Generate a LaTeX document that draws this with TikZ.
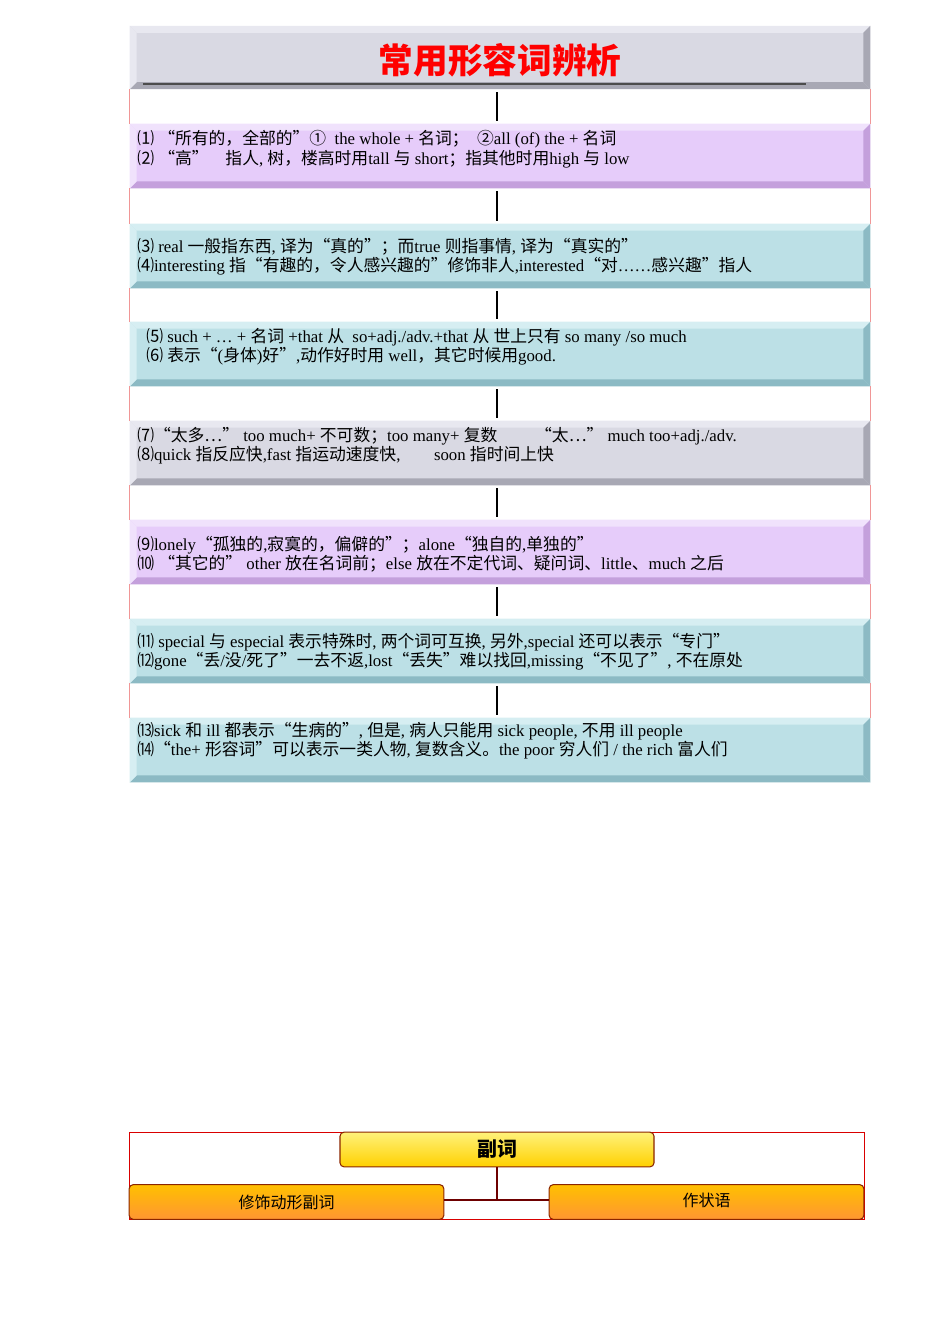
\documentclass[tikz,border=0pt]{standalone}
\usepackage{fontspec}
\setmainfont{Liberation Serif}
\newfontfamily\cjk{Noto Sans CJK SC}
\usetikzlibrary{calc}

% CJK characters switch to the CJK font
\XeTeXinterchartokenstate=1
\newXeTeXintercharclass\cjkclass
\newcount\cjkcnt
\def\cjkrange#1#2{\cjkcnt=#1 \loop\XeTeXcharclass\cjkcnt=\cjkclass \advance\cjkcnt 1 \ifnum\cjkcnt<#2 \repeat}
\cjkrange{"4E00}{"A000}
\cjkrange{"3000}{"3040}
\cjkrange{"FF00}{"FFF0}
\cjkrange{"2460}{"2500}
\cjkrange{"22EF}{"22F0}
\cjkrange{"201C}{"201E}
\XeTeXinterchartoks 0 \cjkclass = {\begingroup\cjk}
\XeTeXinterchartoks 4095 \cjkclass = {\begingroup\cjk}
\XeTeXinterchartoks \cjkclass 0 = {\endgroup}
\XeTeXinterchartoks \cjkclass 4095 = {\endgroup}

\definecolor{lilac}{RGB}{230,204,250}
\definecolor{lilacdark}{RGB}{196,160,220}
\definecolor{lilaclight}{RGB}{240,226,252}
\definecolor{teal}{RGB}{188,224,230}
\definecolor{tealdark}{RGB}{140,186,196}
\definecolor{teallight}{RGB}{214,238,242}
\definecolor{slate}{RGB}{217,217,227}
\definecolor{slatedark}{RGB}{168,168,180}
\definecolor{slatelight}{RGB}{232,232,240}
\definecolor{gapred}{RGB}{240,150,150}
\definecolor{linkred}{RGB}{110,0,0}

\tikzset{
  panel/.style={rectangle, inner sep=0pt, minimum width=555pt, minimum height=48pt},
  note/.style={anchor=north west, inner sep=0pt, align=left, font=\fontsize{12.6}{14.6}\selectfont},
  spine/.style={black, line width=0.9},
  gap/.style={gapred, line width=0.6},
  head/.style={rounded corners=3, draw={rgb,255:red,139;green,37;blue,0}, line width=0.8,
    inner sep=0pt, minimum height=26pt},
}

% bevelled panel edges
\newcommand{\bevel}[3]{%
  \fill[#2] (#1.south west) -- (#1.south east) -- ($(#1.south east)+(-7,-7)$) -- ($(#1.south west)+(7,-7)$) -- cycle;
  \fill[#3] (#1.north west) -- (#1.north east) -- ($(#1.north east)+(-7,7)$) -- ($(#1.north west)+(7,7)$) -- cycle;
  \fill[#3] (#1.north west) -- (#1.south west) -- ($(#1.south west)+(7,-7)$) -- ($(#1.north west)+(7,7)$) -- cycle;
  \fill[#2] (#1.north east) -- (#1.south east) -- ($(#1.south east)+(-7,-7)$) -- ($(#1.north east)+(-7,7)$) -- cycle;
}

\begin{document}
\begin{tikzpicture}[x=0.75pt,y=0.75pt,yscale=-1,xscale=1]
\useasboundingbox (0,0) rectangle (950,1344);

% panels
\node (title) [panel, fill=slate, minimum height=47pt] at (500,57.5) {};
\node (p1) [panel, fill=lilac] at (500,156) {};
\node (p2) [panel, fill=teal] at (500,256) {};
\node (p3) [panel, fill=teal] at (500,354) {};
\node (p4) [panel, fill=slate] at (500,453) {};
\node (p5) [panel, fill=lilac] at (500,552) {};
\node (p6) [panel, fill=teal] at (500,651) {};
\node (p7) [panel, fill=teal] at (500,750) {};
\bevel{title}{slatedark}{slatelight}
\bevel{p1}{lilacdark}{lilaclight}
\bevel{p2}{tealdark}{teallight}
\bevel{p3}{tealdark}{teallight}
\bevel{p4}{slatedark}{slatelight}
\bevel{p5}{lilacdark}{lilaclight}
\bevel{p6}{tealdark}{teallight}
\bevel{p7}{tealdark}{teallight}
\draw[black!70, line width=0.8] (143,84) -- (806,84);

\node (ttl) at (500,60) {\cjk\bfseries\color{red}\fontsize{26}{28}\selectfont 常用形容词辨析};

% gaps and spine
\foreach \a/\b in {title/p1,p1/p2,p2/p3,p3/p4,p4/p5,p5/p6,p6/p7}{
  \draw[gap] (\a.south west) -- (\b.north west);
  \draw[gap] (\a.south east) -- (\b.north east);
  \draw[spine] ($(\a.south)+(-3,3)$) -- ($(\b.north)+(-3,-3)$);
}

% notes
\node (t1) [note] at (137,130) {⑴\ “所有的，全部的”①\ \ the whole +\ 名词；\ \ ②all (of) the +\ 名词\\⑵\ “高”\quad 指人, 树，楼高时用tall 与 short；指其他时用high 与 low};
\node (t2) [note] at (137,238) {⑶ real 一般指东西, 译为“真的”；而true 则指事情, 译为“真实的”\\⑷interesting 指“有趣的，令人感兴趣的”修饰非人,interested“对……感兴趣”指人};
\node (t3) [note] at (146,328) {⑸ such + … +\ 名词 +that 从\ \ so+adj./adv.+that 从\ 世上只有 so many /so much\\⑹ 表示“(身体)好”,动作好时用 well，其它时候用good.};
\node (t4) [note] at (137,427) {⑺“太多⋯”\ too much+ 不可数；too many+ 复数\qquad\ “太⋯”\ much too+adj./adv.\\⑻quick 指反应快,fast 指运动速度快,\qquad soon 指时间上快};
\node (t5) [note] at (137,536) {⑼lonely“孤独的,寂寞的，偏僻的”；alone“独自的,单独的”\\⑽\ “其它的”\ other 放在名词前；else 放在不定代词、疑问词、little、much 之后};
\node (t6) [note] at (137,633) {⑾ special 与 especial 表示特殊时, 两个词可互换, 另外,special 还可以表示“专门”\\⑿gone“丢/没/死了”一去不返,lost“丢失”难以找回,missing“不见了”, 不在原处};
\node (t7) [note] at (137,722) {⒀sick 和 ill 都表示“生病的”, 但是, 病人只能用 sick people,\ 不用 ill people\\⒁“the+ 形容词”可以表示一类人物, 复数含义。the poor\ 穷人们 / the rich 富人们};

% adverb chart
\draw[red!85!black, line width=0.7] (129,1132) rectangle (864,1219);
\node (adv) [head, minimum width=235.5pt, top color={rgb,255:red,255;green,242;blue,122}, bottom color={rgb,255:red,255;green,208;blue,0}]
  at (497,1149.5) {\cjk\bfseries\fontsize{15}{17}\selectfont 副词};
\node (mod) [head, minimum width=236pt, top color={rgb,255:red,255;green,192;blue,0}, bottom color={rgb,255:red,255;green,150;blue,50}]
  at (286.5,1202) {\raisebox{-3pt}{\cjk\fontsize{12}{14}\selectfont 修饰动形副词}};
\node (role) [head, minimum width=236pt, top color={rgb,255:red,255;green,192;blue,0}, bottom color={rgb,255:red,255;green,150;blue,50}]
  at (706.5,1202) {\raisebox{3pt}{\cjk\fontsize{12}{14}\selectfont 作状语}};
\coordinate (fork) at (497,1200);
\draw[linkred, line width=2.2] (adv.south) -- (fork);
\draw[linkred, line width=2.2] (mod.east |- fork) -- (role.west |- fork);
\end{tikzpicture}
\end{document}
